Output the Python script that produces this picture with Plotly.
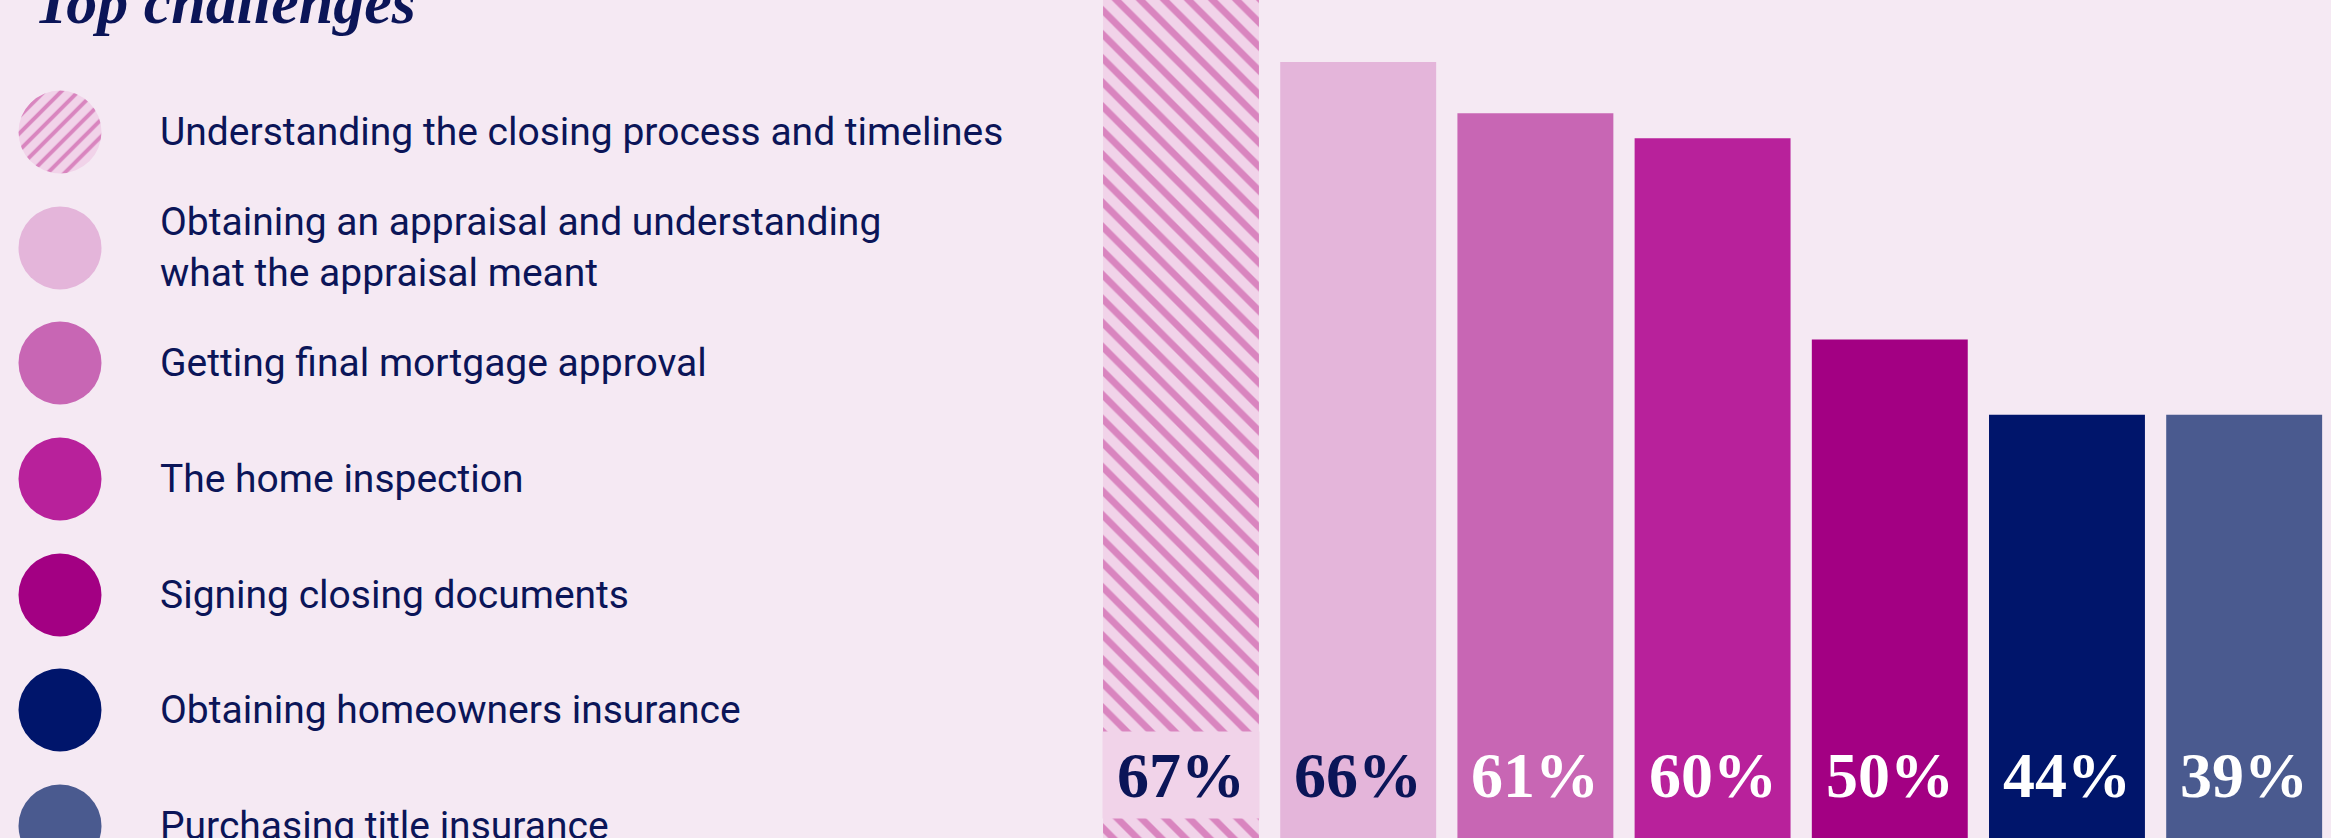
import plotly.graph_objects as go

# ---------------- data ----------------
categories = [
    "Understanding the closing process and timelines",
    "Obtaining an appraisal and understanding<br>what the appraisal meant",
    "Getting final mortgage approval",
    "The home inspection",
    "Signing closing documents",
    "Obtaining homeowners insurance",
    "Purchasing title insurance",
]
pct_values = [67, 66, 61, 60, 50, 44, 39]
# drawn bar lengths (the infographic does not draw them to scale)
bar_heights = [106, 92.6, 86.5, 83.5, 59.5, 50.5, 50.5]
title_text = "Top challenges"

# ---------------- styles ----------------
W, H = 2331, 838
BG = "#f5e9f3"
NAVY = "#0b1558"
bar_colors = ["#f1d3e9", "#e4b5da", "#c866b4", "#b8219b", "#a30083", "#00156b", "#4a5a8f"]
label_colors = [NAVY, NAVY, "white", "white", "white", "white", "white"]
HATCH_FG = "#d985bf"
HATCH_BG = "#f1d3e9"

legend_rows_px = [132, 248, 363, 479, 595, 710, 826]
CIRCLE_X = 60
CIRCLE_D = 83
TEXT_X = 158
LABEL_Y_PX = 775

fig = go.Figure()

n = len(categories)
# plain bars
fig.add_trace(go.Bar(
    x=categories[1:], y=bar_heights[1:],
    marker=dict(color=bar_colors[1:], line=dict(width=0)),
    hoverinfo="skip", showlegend=False,
))
# hatched first bar
fig.add_trace(go.Bar(
    x=categories[:1], y=bar_heights[:1],
    marker=dict(
        color=HATCH_BG, line=dict(width=0),
        pattern=dict(shape="\\", fgcolor=HATCH_FG, bgcolor=HATCH_BG,
                     fgopacity=1, size=17, solidity=0.4),
    ),
    hoverinfo="skip", showlegend=False,
))

# legend circles (solid ones) on a full-figure pixel axis
fig.add_trace(go.Scatter(
    x=[CIRCLE_X] * (n - 1), y=legend_rows_px[1:],
    mode="markers",
    marker=dict(size=CIRCLE_D, color=bar_colors[1:], line=dict(width=0)),
    cliponaxis=False, hoverinfo="skip", showlegend=False,
    xaxis="x2", yaxis="y2",
))

# hatched legend circle as a single-slice pie
r = CIRCLE_D / 2
cy = legend_rows_px[0]
fig.add_trace(go.Pie(
    values=[1], labels=[categories[0]], sort=False, textinfo="none",
    hoverinfo="skip", showlegend=False,
    marker=dict(colors=[HATCH_BG], line=dict(width=0),
                pattern=dict(shape="/", fgcolor=HATCH_FG, bgcolor=HATCH_BG,
                             fgopacity=1, size=12, solidity=0.33)),
    domain=dict(x=[(CIRCLE_X - r) / W, (CIRCLE_X + r) / W],
                y=[1 - (cy + r) / H, 1 - (cy - r) / H]),
))

annotations = []
# legend texts
for cat, ry in zip(categories, legend_rows_px):
    annotations.append(dict(
        text=cat, xref="paper", yref="paper", x=TEXT_X / W, y=1 - ry / H,
        xanchor="left", yanchor="middle", align="left", showarrow=False,
        font=dict(family="Roboto", size=39, color=NAVY),
    ))

# value labels
label_y = (H - LABEL_Y_PX) / H * 100
for i, (cat, v) in enumerate(zip(categories, pct_values)):
    a = dict(
        text=f"{v}%", xref="x", yref="y", x=cat, y=label_y,
        xanchor="center", yanchor="middle", showarrow=False,
        font=dict(family="Liberation Serif", size=64, color=label_colors[i], weight="bold"),
    )
    if i == 0:
        a.update(bgcolor=HATCH_BG, width=156, height=86, borderpad=0)
    annotations.append(a)

# title (cropped at top)
annotations.append(dict(
    text=title_text, xref="paper", yref="paper", x=32 / W, y=1 - 2 / H,
    xanchor="left", yanchor="middle", showarrow=False,
    font=dict(family="Liberation Serif", size=62, color=NAVY, style="italic", weight="bold"),
))

x0 = 1092.4
fig.update_layout(
    width=W, height=H,
    margin=dict(l=0, r=0, t=0, b=0),
    paper_bgcolor=BG, plot_bgcolor="rgba(0,0,0,0)",
    barmode="overlay", bargap=0.12,
    xaxis=dict(domain=[x0 / W, 1], range=[-0.5, 6.49], visible=False, fixedrange=True,
               type="category", categoryorder="array", categoryarray=categories),
    yaxis=dict(domain=[0, 1], range=[0, 100], visible=False, fixedrange=True),
    xaxis2=dict(domain=[0, 1], range=[0, W], visible=False, anchor="y2"),
    yaxis2=dict(domain=[0, 1], range=[H, 0], visible=False, anchor="x2"),
    annotations=annotations,
)

fig.write_html("out.html")
